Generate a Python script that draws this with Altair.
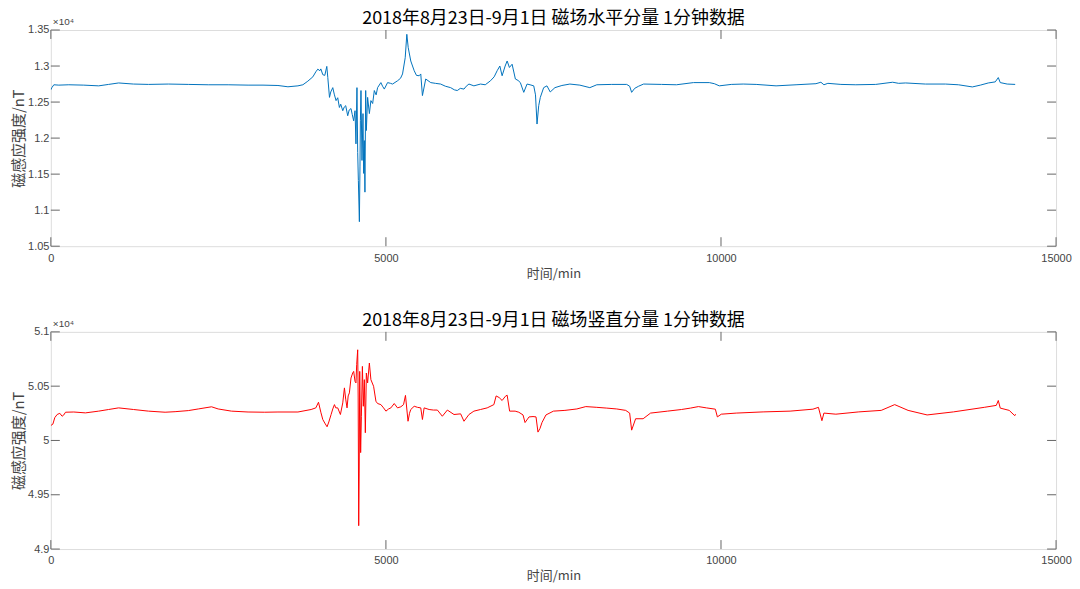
import altair as alt
import pandas as pd

title_h = "2018年8月23日-9月1日 磁场水平分量 1分钟数据"
title_z = "2018年8月23日-9月1日 磁场竖直分量 1分钟数据"
x_title = "时间/min"
y_title = "磁感应强度/nT"
exp_label = "×10⁴"

x_ticks = [0, 5000, 10000, 15000]
h_ticks = [10500, 11000, 11500, 12000, 12500, 13000, 13500]
z_ticks = [49000, 49500, 50000, 50500, 51000]

# horizontal component (nT) vs minute
h_minutes = [0, 15, 45, 119, 268, 491, 714, 862, 1011, 1234, 1457, 1754, 2051, 2349, 2646, 2943,
             3166, 3389, 3538, 3687, 3761, 3835, 3910, 3954, 3984, 4014, 4029, 4058, 4088, 4118,
             4133, 4158, 4177, 4207, 4229, 4256, 4281, 4306, 4326, 4356, 4378, 4400, 4430, 4452,
             4479, 4497, 4519, 4539, 4553, 4568, 4579, 4589, 4604, 4613, 4619, 4628, 4643, 4658,
             4668, 4678, 4687, 4698, 4708, 4727, 4753, 4776, 4802, 4827, 4854, 4876, 4925, 4950,
             4976, 5025, 5069, 5099, 5173, 5218, 5248, 5288, 5312, 5333, 5371, 5422, 5456, 5496,
             5520, 5545, 5594, 5669, 5738, 5817, 5887, 5966, 6021, 6065, 6110, 6165, 6199, 6239,
             6313, 6412, 6482, 6560, 6615, 6660, 6700, 6734, 6779, 6809, 6843, 6883, 6932, 6972,
             7006, 7057, 7106, 7151, 7206, 7232, 7255, 7280, 7304, 7354, 7403, 7452, 7522, 7626,
             7745, 7894, 8043, 8147, 8370, 8593, 8637, 8667, 8712, 8771, 8845, 9113, 9336, 9589,
             9826, 9901, 9975, 10153, 10332, 10525, 10822, 11120, 11417, 11491, 11536, 11595,
             11789, 12012, 12309, 12562, 12651, 12755, 13052, 13350, 13543, 13751, 13870, 13989,
             14093, 14138, 14167, 14271, 14390]
h_values = [12670, 12700, 12740, 12735, 12740, 12735, 12725, 12745, 12765, 12750, 12745, 12750,
            12745, 12740, 12740, 12735, 12735, 12730, 12712, 12725, 12740, 12790, 12850, 12920,
            12957, 12935, 12960, 12880, 12870, 12995, 12840, 12565, 12640, 12700, 12610, 12520,
            12560, 12425, 12470, 12380, 12430, 12450, 12310, 12390, 12410, 12330, 12240, 12380,
            11920, 12700, 11800, 11410, 10840, 11600, 12240, 12660, 11690, 12340, 11510, 11965,
            11250, 12660, 12105, 12565, 12340, 12520, 12480, 12660, 12600, 12700, 12770, 12720,
            12680, 12770, 12760, 12750, 12795, 12830, 12890, 13115, 13440, 13255, 13070, 12935,
            12870, 12865, 12890, 12590, 12820, 12770, 12760, 12750, 12720, 12700, 12670, 12660,
            12690, 12680, 12720, 12750, 12725, 12750, 12740, 12795, 12850, 12935, 13000, 12865,
            13000, 13070, 12980, 13025, 12820, 12800, 12770, 12635, 12750, 12740, 12725, 12600,
            12195, 12450, 12565, 12700, 12725, 12640, 12700, 12730, 12750, 12735, 12700, 12740,
            12745, 12745, 12720, 12635, 12690, 12720, 12750, 12745, 12740, 12770, 12770, 12755,
            12725, 12745, 12750, 12745, 12725, 12740, 12755, 12775, 12740, 12760, 12745, 12740,
            12745, 12775, 12760, 12765, 12750, 12750, 12740, 12710, 12735, 12765, 12780, 12840,
            12770, 12750, 12745]

# vertical component (nT) vs minute
z_minutes = [0, 30, 59, 94, 134, 168, 193, 219, 342, 516, 714, 862, 1011, 1234, 1457, 1705, 1854,
             2051, 2200, 2398, 2497, 2695, 2943, 3192, 3389, 3687, 3884, 3954, 3994, 4029, 4058,
             4088, 4122, 4148, 4182, 4207, 4232, 4252, 4281, 4321, 4356, 4381, 4400, 4420, 4437,
             4455, 4479, 4504, 4519, 4539, 4553, 4564, 4579, 4586, 4594, 4601, 4609, 4623, 4634,
             4649, 4663, 4678, 4693, 4708, 4727, 4753, 4776, 4816, 4851, 4876, 4925, 4965, 5000,
             5040, 5074, 5124, 5173, 5223, 5263, 5292, 5330, 5352, 5371, 5422, 5471, 5520, 5545,
             5570, 5645, 5709, 5768, 5842, 5917, 6016, 6115, 6165, 6239, 6313, 6412, 6511, 6611,
             6645, 6690, 6734, 6783, 6809, 6846, 6928, 6983, 7046, 7076, 7136, 7195, 7240, 7269,
             7299, 7329, 7388, 7500, 7671, 7849, 7983, 8147, 8295, 8444, 8578, 8637, 8667, 8726,
             8838, 8949, 9202, 9410, 9544, 9663, 9782, 9916, 9946, 10005, 10228, 10629, 11031,
             11372, 11454, 11506, 11536, 11714, 12056, 12391, 12592, 12792, 13076, 13469, 13929,
             14108, 14138, 14167, 14301, 14384, 14396]
z_values = [50138, 50150, 50210, 50239, 50250, 50223, 50235, 50260, 50262, 50254, 50270, 50285,
            50300, 50285, 50270, 50260, 50265, 50275, 50290, 50310, 50290, 50270, 50262, 50260,
            50262, 50262, 50285, 50300, 50352, 50260, 50193, 50160, 50126, 50170, 50239, 50290,
            50330, 50300, 50300, 50239, 50346, 50484, 50380, 50300, 50410, 50438, 50575, 50621,
            50636, 50544, 50530, 50700, 50835, 50400, 49215, 49700, 50636, 49888, 50223, 50682,
            50315, 50560, 50071, 50621, 50530, 50713, 50560, 50499, 50361, 50340, 50330, 50300,
            50270, 50290, 50300, 50340, 50300, 50310, 50330, 50415, 50177, 50250, 50285, 50315,
            50305, 50300, 50193, 50300, 50285, 50280, 50280, 50223, 50280, 50239, 50245, 50177,
            50239, 50270, 50285, 50300, 50330, 50410, 50395, 50368, 50407, 50417, 50270, 50270,
            50260, 50235, 50165, 50217, 50220, 50217, 50077, 50110, 50165, 50235, 50270, 50277,
            50290, 50312, 50305, 50298, 50290, 50277, 50252, 50095, 50200, 50200, 50252, 50270,
            50285, 50298, 50312, 50300, 50288, 50217, 50242, 50252, 50263, 50270, 50288, 50305,
            50182, 50252, 50242, 50263, 50277, 50330, 50277, 50235, 50263, 50305, 50323, 50368,
            50298, 50277, 50228, 50242]

W = 1009
TICK_LEN = 9
FRAME = "#666666"
TXT = "#444444"
LATIN = "Liberation Sans"
CJK = "Noto Sans CJK SC"


def panel(minutes, values, color, yticks, title, height):
    df = pd.DataFrame({"t": minutes, "v": values})
    xs = alt.Scale(domain=[0, 15000], nice=False, zero=False)
    ys = alt.Scale(domain=[yticks[0], yticks[-1]], nice=False, zero=False)
    xax = alt.Axis(
        values=x_ticks, title=x_title, ticks=False, domain=False, grid=False,
        labelPadding=6, labelFontSize=11, labelColor=TXT, labelFont=LATIN,
        labelFlush=False,
        titleFontSize=13, titleColor=TXT, titleFont=CJK, titleFontWeight="normal",
        titlePadding=4, format="d")
    yax = alt.Axis(
        values=yticks, title=y_title, ticks=False, domain=False, grid=False,
        labelPadding=2, labelFontSize=11, labelColor=TXT, labelFont=LATIN,
        labelFlush=False,
        labelExpr="format(datum.value / 10000, '~g')",
        titleFontSize=15, titleColor=TXT, titleFont=CJK, titleFontWeight="normal",
        titlePadding=1)
    X = alt.X("t:Q", scale=xs, axis=xax, title=x_title)
    Y = alt.Y("v:Q", scale=ys, axis=yax, title=y_title)
    line = alt.Chart(df).mark_line(color=color, strokeWidth=1, clip=True).encode(x=X, y=Y)
    xt = pd.DataFrame({"t": x_ticks})
    yt = pd.DataFrame({"v": yticks})
    tx_bot = alt.Chart(xt).mark_rule(color=FRAME, strokeWidth=1).encode(
        x=X, y=alt.value(height), y2=alt.value(height - TICK_LEN))
    tx_top = alt.Chart(xt).mark_rule(color=FRAME, strokeWidth=1).encode(
        x=X, y=alt.value(0), y2=alt.value(TICK_LEN))
    ty_left = alt.Chart(yt).mark_rule(color=FRAME, strokeWidth=1).encode(
        y=Y, x=alt.value(0), x2=alt.value(TICK_LEN))
    ty_right = alt.Chart(yt).mark_rule(color=FRAME, strokeWidth=1).encode(
        y=Y, x=alt.value(W - TICK_LEN), x2=alt.value(W))
    expo = alt.Chart(pd.DataFrame({"s": [exp_label]})).mark_text(
        align="left", baseline="bottom", fontSize=10, color=TXT, font=LATIN).encode(
        x=alt.value(2), y=alt.value(-3), text="s:N")
    return alt.layer(line, tx_bot, tx_top, ty_left, ty_right, expo).properties(
        width=W, height=height,
        title=alt.TitleParams(title, fontSize=18, font=CJK, fontWeight="normal",
                              color="#000000", offset=-11, anchor="middle", frame="group"),
    )


top = panel(h_minutes, h_values, "#0072BD", h_ticks, title_h, 217)
bot = panel(z_minutes, z_values, "#FF0000", z_ticks, title_z, 218)

chart = alt.vconcat(top, bot, spacing=30).properties(
    padding={"left": 3, "top": 0, "right": 0, "bottom": 0}
).configure_view(stroke=FRAME, strokeWidth=1).configure(background="white")

chart.save("out.html", embed_options={"renderer": "svg", "actions": False})
